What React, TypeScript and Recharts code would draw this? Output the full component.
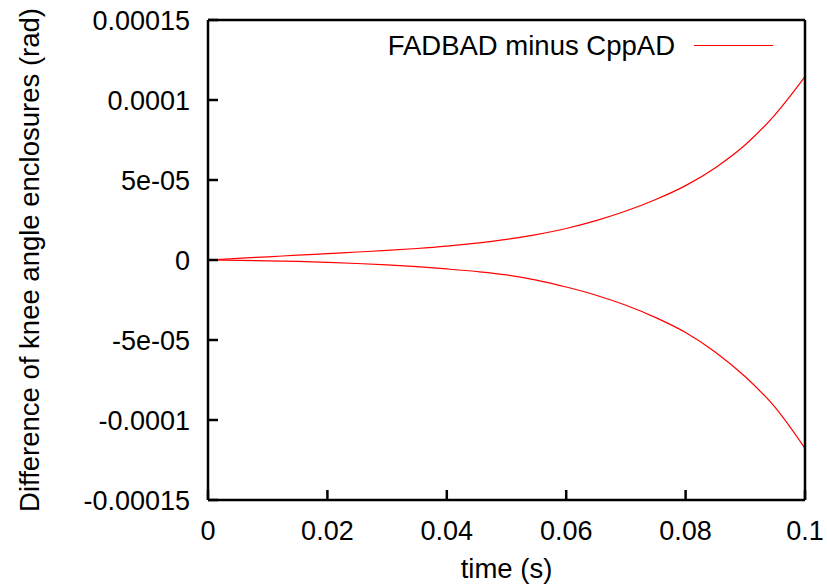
import React from 'react';
import { LineChart, Line, XAxis, YAxis } from 'recharts';

const times = [0, 0.005, 0.01, 0.015, 0.02, 0.025, 0.03, 0.035, 0.04, 0.045, 0.05, 0.055, 0.06, 0.065, 0.07, 0.075, 0.08, 0.085, 0.09, 0.095, 0.1];
const upperDiff = [0, 1.0e-6, 2.0e-6, 3.0e-6, 4.0e-6, 5.0e-6, 6.0e-6, 7.2e-6, 8.7e-6, 10.6e-6, 12.9e-6, 15.9e-6, 19.7e-6, 24.6e-6, 30.6e-6, 37.8e-6, 46.5e-6, 57.7e-6, 72.0e-6, 90.9e-6, 114.6e-6];
const lowerDiff = [0, -0.2e-6, -0.5e-6, -0.9e-6, -1.5e-6, -2.2e-6, -3.1e-6, -4.2e-6, -5.6e-6, -7.2e-6, -9.3e-6, -12.6e-6, -16.9e-6, -22.0e-6, -28.3e-6, -36.0e-6, -45.3e-6, -57.6e-6, -73.0e-6, -92.1e-6, -117.7e-6];

const xTicks = [0, 0.02, 0.04, 0.06, 0.08, 0.1];
const yTicks = [-0.00015, -0.0001, -0.00005, 0, 0.00005, 0.0001, 0.00015];
const yTickLabels = ['-0.00015', '-0.0001', '-5e-05', '0', '5e-05', '0.0001', '0.00015'];

const seriesName = 'FADBAD minus CppAD';
const xLabel = 'time (s)';
const yLabel = 'Difference of knee angle enclosures (rad)';

const data = times.map((t, i) => ({ t, upper: upperDiff[i], lower: lowerDiff[i] }));

const FONT = '"Liberation Sans", Arial, sans-serif';
const tickStyle = { fontSize: 27, fill: '#000', fontFamily: FONT, stroke: 'none' };
const axisLine = { stroke: '#000', strokeWidth: 2.5 };
const tickLine = { stroke: '#000', strokeWidth: 2.5 };

const YLabel = (props: any) => {
  const vb = props.viewBox || {};
  const x = 39;
  const y = vb.y + vb.height / 2;
  return (
    <text x={x} y={y} transform={`rotate(-90 ${x} ${y})`} textAnchor="middle" fontSize={27.5} fontFamily={FONT} fill="#000">
      {yLabel}
    </text>
  );
};

const App: React.FC = () => {
  return (
    <div style={{ position: 'absolute', left: 0, top: 0, width: 827, height: 584, background: '#fff' }}>
      <LineChart width={827} height={584} data={data} margin={{ top: 19, right: 21, bottom: 0, left: 0 }}>
        <XAxis
          xAxisId="b"
          dataKey="t"
          type="number"
          domain={[0, 0.1]}
          ticks={xTicks}
          interval={0}
          height={84}
          stroke="#000"
          tick={tickStyle}
          tickSize={-10}
          tickMargin={31}
          axisLine={axisLine}
          tickLine={tickLine}
          label={{ value: xLabel, position: 'insideBottom', offset: 6, fontSize: 27.5, fill: '#000', fontFamily: FONT, stroke: 'none' }}
        />
        <XAxis
          xAxisId="t"
          dataKey="t"
          type="number"
          orientation="top"
          domain={[0, 0.1]}
          ticks={xTicks}
          interval={0}
          height={1}
          stroke="#000"
          tick={false}
          tickSize={-10}
          axisLine={axisLine}
          tickLine={tickLine}
        />
        <YAxis
          yAxisId="l"
          type="number"
          domain={[-0.00015, 0.00015]}
          ticks={yTicks}
          interval={0}
          width={208}
          stroke="#000"
          tick={tickStyle}
          tickFormatter={(v: number) => yTickLabels[yTicks.indexOf(v)] ?? String(v)}
          tickSize={-10}
          tickMargin={28}
          axisLine={axisLine}
          tickLine={tickLine}
          label={{ content: YLabel }}
        />
        <YAxis
          yAxisId="r"
          type="number"
          orientation="right"
          domain={[-0.00015, 0.00015]}
          ticks={yTicks}
          interval={0}
          width={1}
          stroke="#000"
          tick={false}
          tickSize={-10}
          axisLine={axisLine}
          tickLine={tickLine}
        />
        <Line xAxisId="b" yAxisId="l" type="monotone" dataKey="upper" stroke="#ff0000" strokeWidth={1.2} dot={false} isAnimationActive={false} />
        <Line xAxisId="b" yAxisId="l" type="monotone" dataKey="lower" stroke="#ff0000" strokeWidth={1.2} dot={false} isAnimationActive={false} />
      </LineChart>
      <svg width={400} height={40} style={{ position: 'absolute', left: 380, top: 30 }}>
        <text x={295} y={25} textAnchor="end" fontSize={27.5} fontFamily={FONT} fill="#000">
          {seriesName}
        </text>
        <line x1={314} x2={393} y1={15.5} y2={15.5} stroke="#ff0000" strokeWidth={1.2} />
      </svg>
    </div>
  );
};

export default App;
